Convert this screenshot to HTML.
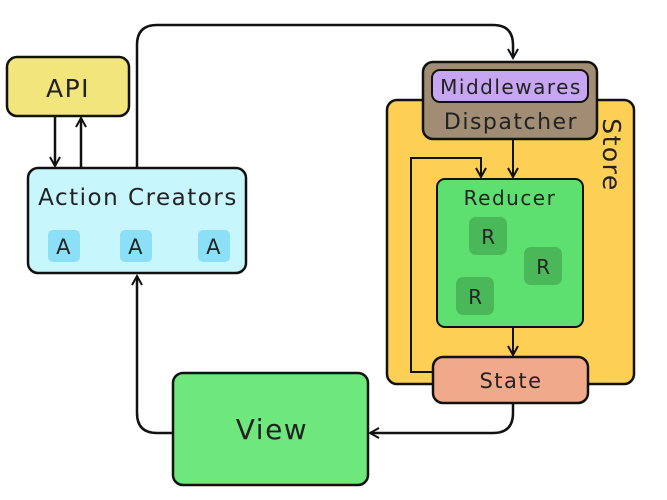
<!DOCTYPE html><html><head><style>body{margin:0;background:#fff}svg{display:block}text{font-family:"DejaVu Sans","Liberation Sans",sans-serif;fill:#222;letter-spacing:1.5px}</style></head><body>
<svg width="667" height="500" viewBox="0 0 667 500">
<defs><marker id="a" markerWidth="12" markerHeight="12" refX="10" refY="6" orient="auto" markerUnits="userSpaceOnUse"><path d="M1,1 L10,6 L1,11" fill="none" stroke="#111" stroke-width="2"/></marker></defs>
<g stroke="#111" stroke-width="2.5" fill="none">
<path d="M137,168 V45 Q137,25 157,25 H493 Q513,25 513,45 V58" marker-end="url(#a)"/>
<path d="M55,116 V166" marker-end="url(#a)"/>
<path d="M81,168 V118" marker-end="url(#a)"/>
<path d="M513,403 V413 Q513,433 493,433 H370" marker-end="url(#a)"/>
<path d="M173,433 H157 Q137,433 137,413 V276" marker-end="url(#a)"/>
</g>
<rect x="387" y="100" width="247" height="284" rx="10" fill="#fecf55" stroke="#111" stroke-width="2.5"/>
<text x="610" y="155" font-size="25" transform="rotate(90 610 155)" text-anchor="middle" dominant-baseline="middle">Store</text>
<g stroke="#111" stroke-width="2" fill="none">
<path d="M433,372 H411 V158 H481 V177" marker-end="url(#a)"/>
<path d="M513,139 V177" marker-end="url(#a)"/>
<path d="M513,327 V355" marker-end="url(#a)"/>
</g>
<rect x="423" y="62" width="174" height="77" rx="10" fill="#a08d74" stroke="#111" stroke-width="2.5"/>
<rect x="432" y="70" width="156" height="32" rx="8" fill="#c6a6f0" stroke="#111" stroke-width="2"/>
<text x="511" y="94" font-size="20" text-anchor="middle" letter-spacing="1">Middlewares</text>
<text x="511" y="129" font-size="22" text-anchor="middle" letter-spacing="1.5">Dispatcher</text>
<rect x="437" y="179" width="146" height="148" rx="8" fill="#5de06f" stroke="#111" stroke-width="2"/>
<text x="510" y="205" font-size="20" text-anchor="middle">Reducer</text>
<g fill="#4ab858"><rect x="469" y="217" width="38" height="38" rx="7"/><rect x="524" y="247" width="38" height="38" rx="7"/><rect x="456" y="277" width="38" height="38" rx="7"/></g>
<g font-size="20" text-anchor="middle"><text x="489" y="244">R</text><text x="544" y="274">R</text><text x="476" y="304">R</text></g>
<rect x="433" y="357" width="155" height="46" rx="10" fill="#f0a98a" stroke="#111" stroke-width="2.5"/>
<text x="511" y="388" font-size="21" text-anchor="middle">State</text>
<rect x="7" y="57" width="122" height="59" rx="10" fill="#f2e57c" stroke="#111" stroke-width="2.5"/>
<text x="68" y="97" font-size="25" text-anchor="middle">API</text>
<rect x="28" y="168" width="218" height="105" rx="10" fill="#c8f6fd" stroke="#111" stroke-width="2.5"/>
<text x="138" y="205" font-size="23" text-anchor="middle" letter-spacing="1.6">Action Creators</text>
<g fill="#8be0f8"><rect x="48" y="230" width="32" height="32" rx="5"/><rect x="120" y="230" width="32" height="32" rx="5"/><rect x="198" y="230" width="32" height="32" rx="5"/></g>
<g font-size="21" text-anchor="middle" letter-spacing="0"><text x="64" y="254">A</text><text x="136" y="254">A</text><text x="214" y="254">A</text></g>
<rect x="173" y="373" width="195" height="112" rx="10" fill="#6ee87c" stroke="#111" stroke-width="2.5"/>
<text x="272" y="439" font-size="28" text-anchor="middle">View</text>
</svg></body></html>
